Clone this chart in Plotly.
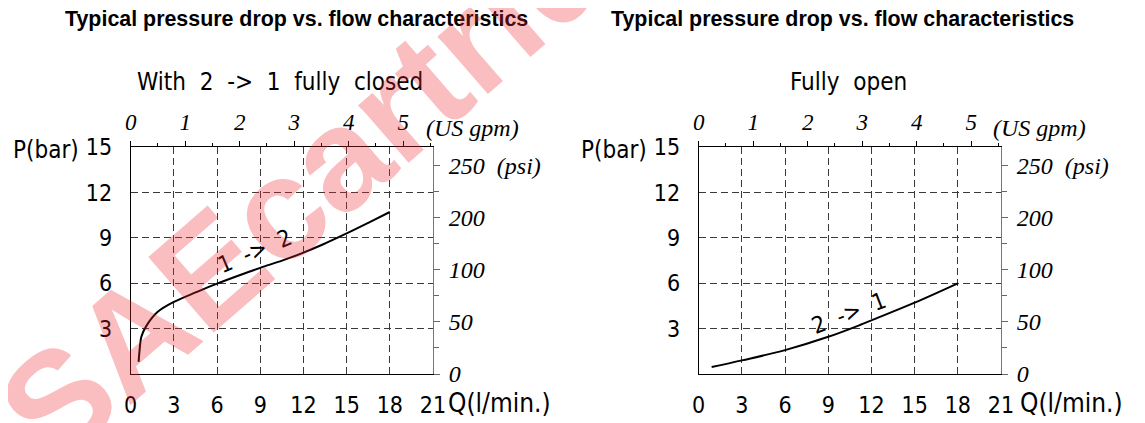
import plotly.graph_objects as go

# ---------------- data ----------------
q_closed = [0.55, 0.62, 0.74, 1.1, 1.86, 3.0, 4.6, 6.0, 7.8, 9.0, 10.8, 12.0, 13.3, 15.0, 16.5, 18.0]
p_closed = [0.8, 1.6, 2.46, 3.2, 4.1, 4.77, 5.43, 5.98, 6.62, 7.02, 7.6, 8.03, 8.55, 9.3, 10.0, 10.72]

q_open = [0.9, 3.0, 6.0, 9.0, 11.2, 12.0, 15.0, 18.0]
p_open = [0.46, 0.9, 1.58, 2.46, 3.24, 3.55, 4.72, 6.0]

q_ticks = [0, 3, 6, 9, 12, 15, 18, 21]
p_ticks = [3, 6, 9, 12, 15]
gpm_ticks = [0, 1, 2, 3, 4, 5]
psi_tickvals = [0, 50, 100, 150, 200]
psi_ticktext = ["0", "50", "100", "200", "250  (psi)"]

titles = ["Typical pressure drop vs. flow characteristics",
          "Typical pressure drop vs. flow characteristics"]
subtitles = ["With  2  ->  1  fully  closed", "Fully  open"]
curve_labels = ["1  ->  2", "2  ->  1"]

LPM_PER_GPM = 3.78541
PSI_PER_BAR = 14.5038

# ---------------- layout helpers ----------------
# the page body has an 8px default margin, so the figure starts at (8, 8)
OFF = 8
W, H = 1145 - OFF, 423 - OFF
CAD = "DejaVu Sans Condensed, Liberation Sans Narrow, DejaVu Sans, sans-serif"
SERIF = "Liberation Serif, Times New Roman, serif"
GRID = "#3a3a3a"

def px(x):
    return (x - OFF) / W

def py(y):
    return 1 - (y - OFF) / H

ydom = [py(374), py(147.3)]
xdoms = [[px(130.7), px(433.0)], [px(698.7), px(1001.0)]]

fig = go.Figure()

fig.add_trace(go.Scatter(x=q_closed, y=p_closed, mode="lines", line=dict(color="black", width=2, shape="spline"),
                         xaxis="x", yaxis="y", showlegend=False, hoverinfo="skip"))
fig.add_trace(go.Scatter(x=q_open, y=p_open, mode="lines", line=dict(color="black", width=2, shape="spline"),
                         xaxis="x2", yaxis="y2", showlegend=False, hoverinfo="skip"))
# empty traces to host the secondary (gpm / psi) axes
fig.add_trace(go.Scatter(x=[], y=[], xaxis="x3", yaxis="y3", showlegend=False, hoverinfo="skip"))
fig.add_trace(go.Scatter(x=[], y=[], xaxis="x4", yaxis="y4", showlegend=False, hoverinfo="skip"))

def q_axis(dom):
    return dict(domain=dom, range=[0, 21], tickvals=q_ticks, ticktext=[str(v) for v in q_ticks],
                showline=True, linecolor="black", linewidth=1, ticks="", showgrid=True,
                gridcolor=GRID, gridwidth=1, griddash="7px,4px", zeroline=False, automargin=False,
                tickfont=dict(family=CAD, size=23, color="black"), ticklabelstandoff=10, fixedrange=True)

def p_axis(anchor):
    return dict(domain=ydom, range=[0, 15], tickvals=p_ticks, ticktext=[str(v) for v in p_ticks],
                anchor=anchor, showline=True, linecolor="black", linewidth=1, ticks="", showgrid=True,
                gridcolor=GRID, gridwidth=1, griddash="7px,4px", zeroline=False, automargin=False,
                tickfont=dict(family=CAD, size=23, color="black"), ticklabelstandoff=13, fixedrange=True)

def gpm_axis(over, anchor):
    return dict(overlaying=over, side="top", anchor=anchor, range=[0, 21 / LPM_PER_GPM],
                tickvals=gpm_ticks, ticktext=[str(v) for v in gpm_ticks],
                ticks="outside", ticklen=5, tickcolor="black", tickwidth=1,
                minor=dict(dtick=0.5, tick0=0, ticks="outside", ticklen=3, tickcolor="black", showgrid=False),
                showline=True, linecolor="black", linewidth=1, showgrid=False, zeroline=False, automargin=False,
                tickfont=dict(family=SERIF, size=23, color="black", style="italic"),
                ticklabelstandoff=2, fixedrange=True)

def psi_axis(over, anchor):
    return dict(overlaying=over, side="right", anchor=anchor, range=[0, 15 * PSI_PER_BAR],
                tickvals=psi_tickvals, ticktext=psi_ticktext,
                ticks="outside", ticklen=6, tickcolor="#666", tickwidth=1,
                minor=dict(dtick=25, tick0=0, ticks="outside", ticklen=5, tickcolor="#666", showgrid=False),
                showline=True, linecolor="#777", linewidth=1, showgrid=False, zeroline=False, automargin=False,
                tickfont=dict(family=SERIF, size=24, color="black", style="italic"),
                ticklabelstandoff=4, fixedrange=True)

fig.update_layout(
    width=W, height=H, margin=dict(l=0, r=0, t=0, b=0, pad=0, autoexpand=False),
    paper_bgcolor="white", plot_bgcolor="white", showlegend=False,
    xaxis=q_axis(xdoms[0]) | dict(anchor="y"),
    yaxis=p_axis("x"),
    xaxis2=q_axis(xdoms[1]) | dict(anchor="y2"),
    yaxis2=p_axis("x2"),
    xaxis3=gpm_axis("x", "y"),
    yaxis3=psi_axis("y", "x"),
    xaxis4=gpm_axis("x2", "y2"),
    yaxis4=psi_axis("y2", "x2"),
)

ann = []
title_x = [296, 842]
sub_x = [280, 848]
pbar_right = [81, 649]
gpm_left = [424, 991]
q_left = [446, 1018]
for i in range(2):
    ann.append(dict(text=f"<b>{titles[i]}</b>", x=px(title_x[i]), y=py(19), xref="paper", yref="paper",
                    xanchor="center", yanchor="middle", showarrow=False, borderpad=0,
                    font=dict(family="Liberation Sans, Arial, sans-serif", size=21.4, color="black")))
    ann.append(dict(text=subtitles[i], x=px(sub_x[i]), y=py(82), xref="paper", yref="paper",
                    xanchor="center", yanchor="middle", showarrow=False,
                    font=dict(family=CAD, size=24, color="black")))
    ann.append(dict(text="P(bar)", x=px(pbar_right[i]), y=py(150), xref="paper", yref="paper",
                    xanchor="right", yanchor="middle", showarrow=False,
                    font=dict(family=CAD, size=24, color="black")))
    ann.append(dict(text="(US gpm)", x=px(gpm_left[i]), y=py(128), xref="paper", yref="paper",
                    xanchor="left", yanchor="middle", showarrow=False,
                    font=dict(family=SERIF, size=24, color="black", style="italic")))
    ann.append(dict(text="Q(l/min.)", x=px(q_left[i]), y=py(403), xref="paper", yref="paper",
                    xanchor="left", yanchor="middle", showarrow=False,
                    font=dict(family=CAD, size=26, color="black")))

ann.append(dict(text=curve_labels[0], x=8.6, y=8.15, xref="x", yref="y", textangle=-23,
                xanchor="center", yanchor="middle", showarrow=False,
                font=dict(family=CAD, size=23, color="black")))
ann.append(dict(text=curve_labels[1], x=10.4, y=4.05, xref="x2", yref="y2", textangle=-21,
                xanchor="center", yanchor="middle", showarrow=False,
                font=dict(family=CAD, size=23, color="black")))

# watermark
ann.append(dict(text="<b>SAEcartridge</b>", x=px(368), y=py(132), xref="paper", yref="paper",
                xanchor="center", yanchor="middle", showarrow=False, textangle=-41,
                font=dict(family="Liberation Sans, Arial, sans-serif", size=145, color="rgba(240,40,50,0.30)")))

fig.update_layout(annotations=ann)
fig.write_html("out.html")
